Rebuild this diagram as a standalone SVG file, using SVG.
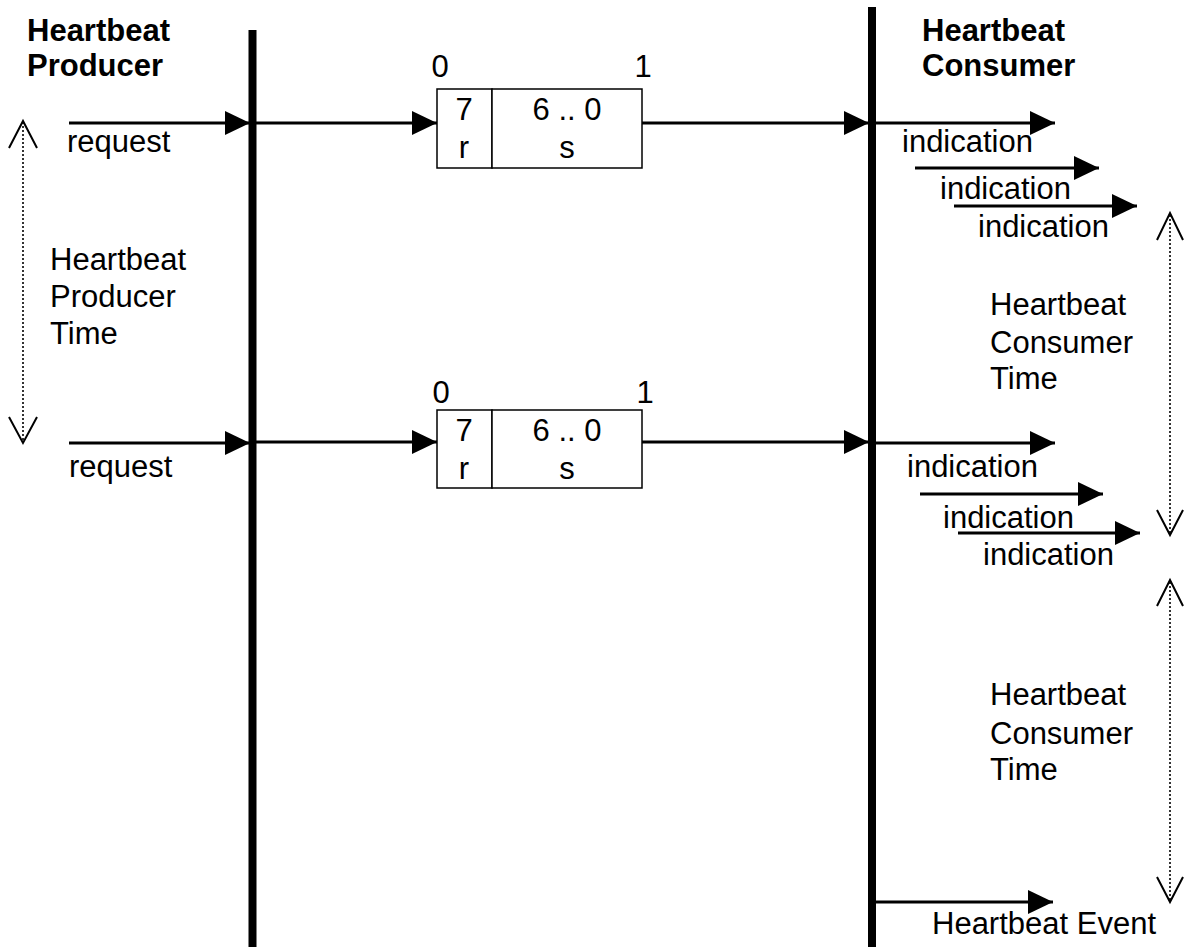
<svg xmlns="http://www.w3.org/2000/svg" width="1184" height="947" viewBox="0 0 1184 947">
<style>
text{font-family:"Liberation Sans",Arial,sans-serif;font-size:31px;fill:#000}
.b{font-weight:bold}
.m{text-anchor:middle}
.ln{stroke:#000;stroke-width:3;fill:none}
.bar{stroke:#000;stroke-width:8;fill:none}
.dot{stroke:#333;stroke-width:2;stroke-dasharray:2,2;fill:none}
.chev{stroke:#000;stroke-width:2;fill:none}
.box{fill:#fff;stroke:#000;stroke-width:1.5}
</style>
<defs>
<marker id="ah" markerUnits="userSpaceOnUse" markerWidth="26" markerHeight="26" refX="25" refY="12" orient="auto">
<path d="M0,0 L25,12 L0,24 Z" fill="#000"/>
</marker>
</defs>
<g id="producer-lifeline">
<line class="bar" x1="252.5" y1="30" x2="252.5" y2="947"/>
<text class="b" x="27" y="41">Heartbeat</text>
<text class="b" x="27" y="76">Producer</text>
</g>
<g id="consumer-lifeline">
<line class="bar" x1="872" y1="7" x2="872" y2="947"/>
<text class="b" x="922" y="41">Heartbeat</text>
<text class="b" x="922" y="76">Consumer</text>
</g>
<g id="box1">
<rect class="box" x="437" y="89" width="55" height="79"/>
<rect class="box" x="492" y="89" width="150" height="79"/>
<text x="440" y="77" class="m">0</text>
<text x="643" y="77" class="m">1</text>
<text x="464" y="120" class="m">7</text>
<text x="464" y="158" class="m">r</text>
<text x="567" y="120" class="m">6 .. 0</text>
<text x="567" y="158" class="m">s</text>
</g>
<g id="box2">
<rect class="box" x="437" y="410" width="55" height="78"/>
<rect class="box" x="492" y="410" width="150" height="78"/>
<text x="441" y="403" class="m">0</text>
<text x="645" y="403" class="m">1</text>
<text x="464" y="441" class="m">7</text>
<text x="464" y="479" class="m">r</text>
<text x="567" y="441" class="m">6 .. 0</text>
<text x="567" y="479" class="m">s</text>
</g>
<g id="producer-time">
<line class="dot" x1="23" y1="122" x2="23" y2="441"/>
<polyline class="chev" points="9,148 23,121 37,148"/>
<polyline class="chev" points="9,417 23,443 37,417"/>
<text x="50" y="270">Heartbeat</text>
<text x="50" y="307">Producer</text>
<text x="50" y="344">Time</text>
</g>
<g id="consumer-time-1">
<line class="dot" x1="1170" y1="215" x2="1170" y2="533"/>
<polyline class="chev" points="1157,240 1170,213 1183,240"/>
<polyline class="chev" points="1157,510 1170,535 1183,510"/>
<text x="990" y="315">Heartbeat</text>
<text x="990" y="353">Consumer</text>
<text x="990" y="389">Time</text>
</g>
<g id="consumer-time-2">
<line class="dot" x1="1170" y1="582" x2="1170" y2="900"/>
<polyline class="chev" points="1157,606 1170,580 1183,606"/>
<polyline class="chev" points="1157,877 1170,902 1183,877"/>
<text x="990" y="705">Heartbeat</text>
<text x="990" y="744">Consumer</text>
<text x="990" y="780">Time</text>
</g>
<g id="labels">
<text x="67" y="152">request</text>
<text x="69" y="477">request</text>
<text x="902" y="152">indication</text>
<text x="940" y="199">indication</text>
<text x="978" y="237">indication</text>
<text x="907" y="477">indication</text>
<text x="943" y="528">indication</text>
<text x="983" y="565">indication</text>
<text x="932" y="934">Heartbeat Event</text>
</g>
<g id="connectors">
<line class="ln" x1="69" y1="123" x2="250" y2="123" marker-end="url(#ah)"/>
<line class="ln" x1="256" y1="123" x2="437" y2="123" marker-end="url(#ah)"/>
<line class="ln" x1="642" y1="123" x2="869" y2="123" marker-end="url(#ah)"/>
<line class="ln" x1="875" y1="123" x2="1055" y2="123" marker-end="url(#ah)"/>
<line class="ln" x1="915" y1="168" x2="1099" y2="168" marker-end="url(#ah)"/>
<line class="ln" x1="954" y1="206" x2="1137" y2="206" marker-end="url(#ah)"/>
<line class="ln" x1="69" y1="443" x2="250" y2="443" marker-end="url(#ah)"/>
<line class="ln" x1="256" y1="442" x2="437" y2="442" marker-end="url(#ah)"/>
<line class="ln" x1="642" y1="442" x2="869" y2="442" marker-end="url(#ah)"/>
<line class="ln" x1="875" y1="443" x2="1055" y2="443" marker-end="url(#ah)"/>
<line class="ln" x1="920" y1="494" x2="1103" y2="494" marker-end="url(#ah)"/>
<line class="ln" x1="958" y1="533" x2="1140" y2="533" marker-end="url(#ah)"/>
<line class="ln" x1="875" y1="902" x2="1053" y2="902" marker-end="url(#ah)"/>
</g>
</svg>
